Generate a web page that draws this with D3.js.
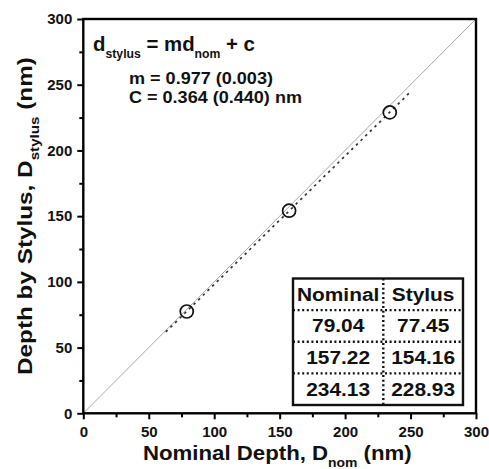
<!DOCTYPE html>
<html><head><meta charset="utf-8">
<script src="https://cdn.jsdelivr.net/npm/d3@7"></script>
<style>body{margin:0;background:#fff;}svg{display:block;font-family:"Liberation Sans",Arial,sans-serif;font-weight:bold;}</style>
</head><body>
<script>
const nominal = [79.04, 157.22, 234.13];
const stylus = [77.45, 154.16, 228.93];
const slope = 0.977, intercept = 0.364;
const slopeErr = 0.003, interceptErr = 0.440;
const fitRange = [63, 250];
const majorTicks = [0, 50, 100, 150, 200, 250, 300];
const minorTicks = [25, 75, 125, 175, 225, 275];
const tableHeader = ["Nominal", "Stylus"];

const W = 489, H = 469;
const m = {left: 83.3, right: W - 476, top: 19, bottom: H - 413.3};
const svg = d3.select("body").append("svg").attr("width", W).attr("height", H);
const x = d3.scaleLinear().domain([0, 300]).range([m.left, W - m.right]);
const y = d3.scaleLinear().domain([0, 300]).range([H - m.bottom, m.top]);

function fit(t, x0, base, width, rotate) {
  const bb = t.node().getBBox();
  const s = width / bb.width;
  t.attr("x", 0).attr("y", 0).attr("text-anchor", "start")
   .attr("transform", `translate(${x0},${base})${rotate ? " rotate(-90)" : ""} scale(${s},1)`);
}

svg.append("line").attr("x1", x(0)).attr("y1", y(0)).attr("x2", x(300)).attr("y2", y(300))
  .attr("stroke", "#a8a8a8").attr("stroke-width", 1);
svg.append("line").attr("x1", x(fitRange[0])).attr("y1", y(slope*fitRange[0]+intercept))
  .attr("x2", x(fitRange[1])).attr("y2", y(slope*fitRange[1]+intercept))
  .attr("stroke", "#333").attr("stroke-width", 1.7).attr("stroke-dasharray", "2.5,4");
svg.selectAll("circle.pt").data(nominal).join("circle").attr("class", "pt")
  .attr("cx", d => x(d)).attr("cy", (d, i) => y(stylus[i])).attr("r", 6.5)
  .attr("fill", "none").attr("stroke", "#111").attr("stroke-width", 1.7);

const xAxis = d3.axisBottom(x).tickValues(majorTicks).tickSize(6).tickPadding(7).tickFormat(d3.format("d"));
const yAxis = d3.axisLeft(y).tickValues(majorTicks).tickSize(6).tickPadding(5).tickFormat(d3.format("d"));
svg.append("g").attr("transform", `translate(0,${y(0)})`).call(xAxis);
svg.append("g").attr("transform", `translate(${x(0)},0)`).call(yAxis);
svg.append("g").attr("transform", `translate(0,${y(0)})`).call(d3.axisBottom(x).tickValues(minorTicks).tickSize(4).tickFormat(""));
svg.append("g").attr("transform", `translate(${x(0)},0)`).call(d3.axisLeft(y).tickValues(minorTicks).tickSize(4).tickFormat(""));
svg.selectAll(".domain").remove();
svg.selectAll(".tick line").attr("stroke", "#000").attr("stroke-width", 2);
svg.selectAll(".tick text").attr("font-size", 15).attr("font-weight", "bold").attr("fill", "#111")
  .attr("font-family", "Liberation Sans, Arial, sans-serif");
svg.append("rect").attr("x", x(0)).attr("y", y(300)).attr("width", x(300) - x(0)).attr("height", y(0) - y(300))
  .attr("fill", "none").attr("stroke", "#000").attr("stroke-width", 2.4);

const eq = svg.append("text").attr("font-size", 20).attr("fill", "#111");
eq.append("tspan").text("d");
eq.append("tspan").attr("font-size", 12).attr("dy", 7).text("stylus");
eq.append("tspan").attr("dy", -7).text(" = md");
eq.append("tspan").attr("font-size", 12).attr("dy", 7).text("nom");
eq.append("tspan").attr("dy", -7).text(" + c");
fit(eq, 93, 51, 162);
const mt = svg.append("text").attr("font-size", 16).attr("fill", "#111")
  .text(`m = ${slope.toFixed(3)} (${slopeErr.toFixed(3)})`);
fit(mt, 129, 84, 144);
const ct = svg.append("text").attr("font-size", 16).attr("fill", "#111")
  .text(`C = ${intercept.toFixed(3)} (${interceptErr.toFixed(3)}) nm`);
fit(ct, 129, 103, 173);

const xt = svg.append("text").attr("font-size", 20).attr("fill", "#111");
xt.append("tspan").text("Nominal Depth, D");
xt.append("tspan").attr("font-size", 12.5).attr("dy", 7).text("nom");
xt.append("tspan").attr("dy", -7).text(" (nm)");
fit(xt, 143, 460, 269);
const yt = svg.append("text").attr("font-size", 20).attr("fill", "#111");
yt.append("tspan").text("Depth by Stylus, D");
yt.append("tspan").attr("font-size", 12.5).attr("dy", 7).text("stylus");
yt.append("tspan").attr("dy", -7).text(" (nm)");
fit(yt, 32, 375, 318, true);

const tx0 = 293, tx1 = 463, ty0 = 278.5, ty1 = 405, tmid = 383.3;
const rows = [tableHeader].concat(nominal.map((d, i) => [d.toFixed(2), stylus[i].toFixed(2)]));
const rh = (ty1 - ty0) / rows.length;
const tg = svg.append("g");
tg.append("rect").attr("x", tx0).attr("y", ty0).attr("width", tx1 - tx0).attr("height", ty1 - ty0)
  .attr("fill", "#fff").attr("stroke", "#111").attr("stroke-width", 2.4);
tg.append("line").attr("x1", tmid).attr("x2", tmid).attr("y1", ty0).attr("y2", ty1)
  .attr("stroke", "#111").attr("stroke-width", 2.4).attr("stroke-dasharray", "2,2.6");
for (let i = 1; i < rows.length; i++) {
  tg.append("line").attr("x1", tx0).attr("x2", tx1).attr("y1", ty0 + i*rh).attr("y2", ty0 + i*rh)
    .attr("stroke", "#111").attr("stroke-width", 2.4).attr("stroke-dasharray", "2,2.6");
}
rows.forEach((r, i) => {
  [[(tx0 + tmid)/2, r[0]], [(tmid + tx1)/2, r[1]]].forEach(([cx, s]) => {
    tg.append("text").attr("font-size", 18.5).attr("fill", "#111").attr("text-anchor", "middle")
      .attr("transform", `translate(${cx},${ty0 + i*rh + rh/2 + 6.5}) scale(1.13,1)`).text(s);
  });
});
</script>
</body></html>
